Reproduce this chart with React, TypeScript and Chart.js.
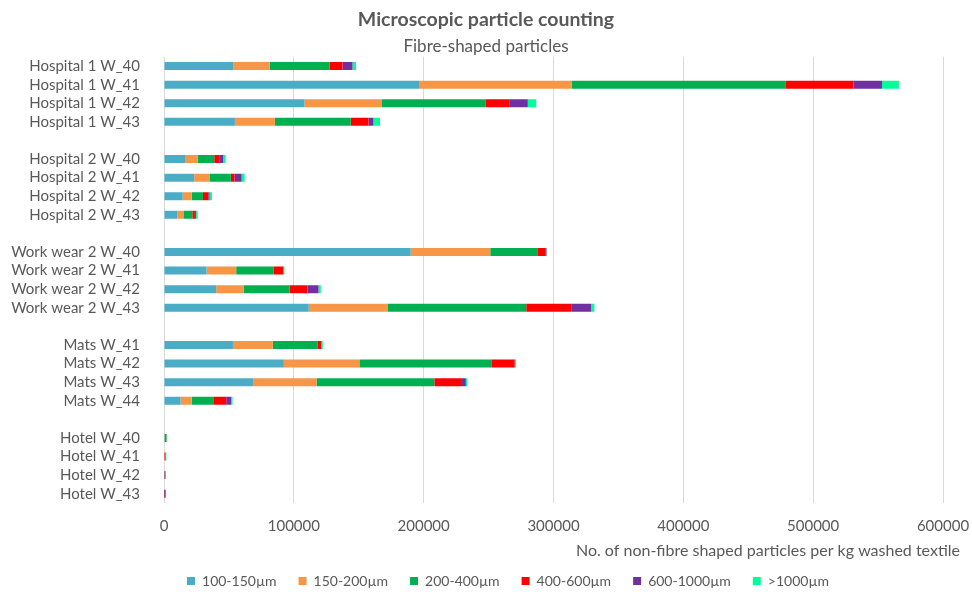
import React, { useEffect, useRef } from 'react';
import { Chart, registerables } from 'chart.js';

Chart.register(...registerables);

const categories = [
  'Hospital 1 W_40', 'Hospital 1 W_41', 'Hospital 1 W_42', 'Hospital 1 W_43', '',
  'Hospital 2 W_40', 'Hospital 2 W_41', 'Hospital 2 W_42', 'Hospital 2 W_43', ' ',
  'Work wear 2 W_40', 'Work wear 2 W_41', 'Work wear 2 W_42', 'Work wear 2 W_43', '  ',
  'Mats W_41', 'Mats W_42', 'Mats W_43', 'Mats W_44', '   ',
  'Hotel W_40', 'Hotel W_41', 'Hotel W_42', 'Hotel W_43',
];

const size100_150 = [53600, 196400, 108200, 54600, null, 16200, 23300, 14400, 10300, null, 190000, 32800, 40200, 111500, null, 53100, 92300, 69000, 12800, null, 300, 0, 200, 0];
const size150_200 = [27700, 117700, 59700, 30800, null, 9700, 12100, 6900, 5100, null, 61300, 22800, 21100, 60600, null, 30700, 58200, 48500, 8500, null, 200, 0, 0, 0];
const size200_400 = [46400, 164900, 79600, 58400, null, 12800, 16100, 8700, 6400, null, 36200, 29000, 35400, 106900, null, 34700, 101600, 90700, 17200, null, 1200, 400, 0, 0];
const size400_600 = [9800, 52000, 18900, 13700, null, 3800, 2900, 4100, 2000, null, 6100, 7200, 13800, 34600, null, 2500, 17900, 21300, 9400, null, 100, 700, 200, 200];
const size600_1000 = [7700, 22000, 13800, 3800, null, 3100, 5400, 1000, 800, null, 1000, 300, 8500, 15400, null, 300, 500, 3000, 3900, null, 100, 200, 600, 1100];
const sizeOver1000 = [2700, 13000, 6500, 5100, null, 1800, 2300, 1800, 1300, null, 200, 700, 1800, 2500, null, 1000, 800, 1100, 1000, null, 600, 500, 500, 0];

const seriesNames = ['100-150µm', '150-200µm', '200-400µm', '400-600µm', '600-1000µm', '>1000µm'];
const seriesColors = ['#4BACC6', '#F79646', '#00B050', '#FF0000', '#7030A0', '#00FF99'];
const seriesValues = [size100_150, size150_200, size200_400, size400_600, size600_1000, sizeOver1000];

const xTicks = [0, 100000, 200000, 300000, 400000, 500000, 600000];
const titleText = 'Microscopic particle counting';
const subtitleText = 'Fibre-shaped particles';
const xAxisTitle = 'No. of non-fibre shaped particles per kg washed textile';

const FONT = 'Lato, "Open Sans", sans-serif';
const GREY = '#595959';

const xTitlePlugin = {
  id: 'xTitlePlugin',
  afterLayout(chart: any) {
    const lg = chart.legend;
    if (lg) {
      lg.left += 22;
      lg.right += 22;
    }
  },
  afterDraw(chart: any) {
    const { ctx, chartArea } = chart;
    const xs = chart.scales.x;
    ctx.save();
    ctx.font = `16px ${FONT}`;
    ctx.fillStyle = GREY;
    ctx.textAlign = 'right';
    ctx.textBaseline = 'middle';
    ctx.fillText(xAxisTitle, chartArea.right + 17, xs.bottom - 1);
    ctx.restore();
  },
};

export default function App() {
  const ref = useRef<HTMLCanvasElement | null>(null);

  useEffect(() => {
    document.body.style.margin = '0';
    if (!ref.current) return;
    const chart = new Chart(ref.current, {
      type: 'bar',
      data: {
        labels: categories,
        datasets: seriesNames.map((name, i) => ({
          label: name,
          data: seriesValues[i],
          backgroundColor: seriesColors[i],
          borderWidth: 0,
          categoryPercentage: 1,
          barPercentage: 0.43,
        })),
      },
      plugins: [xTitlePlugin],
      options: {
        indexAxis: 'y',
        animation: false,
        responsive: false,
        maintainAspectRatio: false,
        layout: { padding: { left: 0, right: 0, top: 0, bottom: 0 } },
        scales: {
          x: {
            stacked: true,
            min: 0,
            max: 600000,
            afterBuildTicks: (s: any) => {
              s.ticks = xTicks.map((v) => ({ value: v }));
            },
            afterFit: (s: any) => {
              s.height += 3;
              s.paddingRight = 29;
            },
            ticks: {
              padding: 14,
              color: GREY,
              font: { family: FONT, size: 15 },
              callback: (v: any) => String(v),
            },
            grid: { color: '#D9D9D9', drawTicks: false, lineWidth: 1 },
            border: { display: false },
          },
          y: {
            stacked: true,
            afterFit: (s: any) => {
              s.width = 164;
            },
            ticks: {
              padding: 16,
              color: GREY,
              font: { family: FONT, size: 15 },
              autoSkip: false,
            },
            grid: { display: false },
            border: { display: false },
          },
        },
        plugins: {
          title: {
            display: true,
            text: titleText,
            color: GREY,
            font: { family: FONT, size: 19.5, weight: 'bold' },
            padding: { top: 8, bottom: 4 },
          },
          subtitle: {
            display: true,
            text: subtitleText,
            color: GREY,
            font: { family: FONT, size: 17 },
            padding: { top: 1, bottom: 0 },
          },
          legend: {
            position: 'bottom',
            maxHeight: 42,
            labels: {
              boxWidth: 8,
              boxHeight: 8,
              padding: 22,
              color: GREY,
              font: { family: FONT, size: 14 },
            },
          },
          tooltip: { enabled: false },
        },
      },
    });
    return () => chart.destroy();
  }, []);

  return (
    <div style={{ width: 972, height: 594 }}>
      <canvas ref={ref} width={972} height={594} style={{ display: 'block' }} />
    </div>
  );
}
